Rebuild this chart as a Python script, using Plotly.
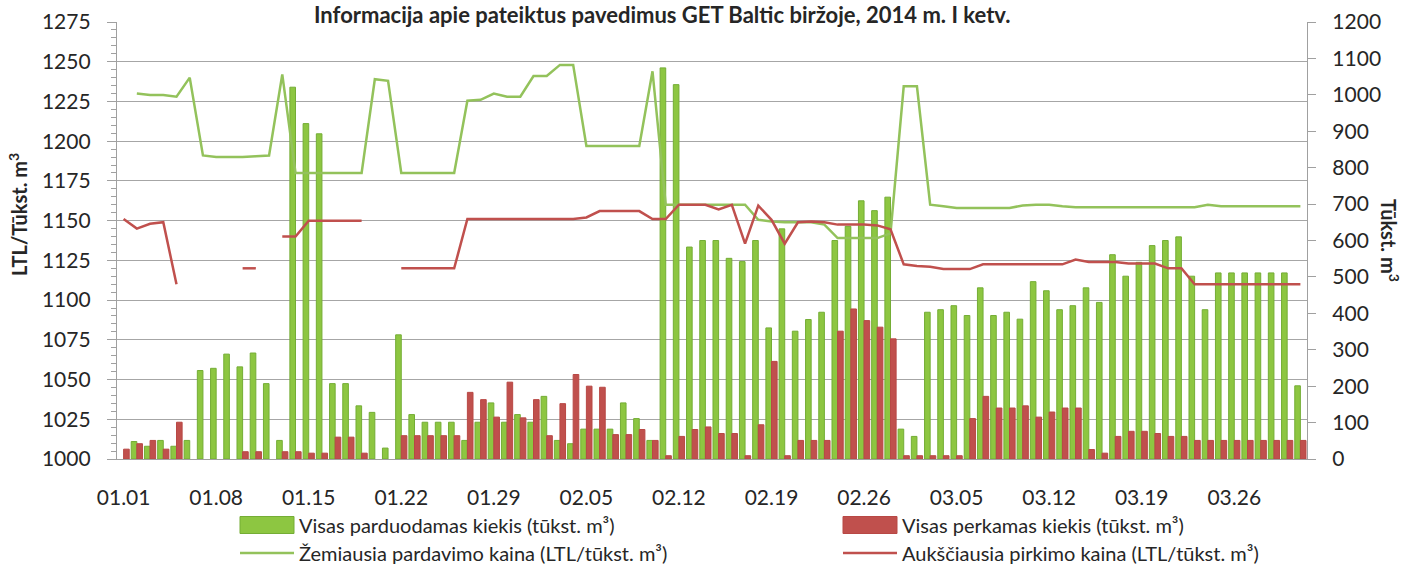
import datetime as dt
import plotly.graph_objects as go

# ---------------- data ----------------
start = dt.date(2014, 1, 1)
dates = [(start + dt.timedelta(days=i)).strftime("%m.%d") for i in range(90)]
tick_labels = dates[::7]

sell_qty = [0, 48, 35, 51, 35, 51, 243, 249, 288, 253,
            291, 207, 51, 1021, 921, 893, 207, 207, 146, 128,
            30, 341, 122, 101, 101, 101, 51, 101, 154, 101,
            122, 101, 172, 51, 42, 82, 82, 82, 154, 111,
            51, 1074, 1028, 582, 600, 600, 551, 542, 600, 360,
            632, 351, 383, 403, 600, 639, 709, 682, 719, 82,
            62, 403, 410, 421, 394, 470, 394, 403, 384, 487,
            462, 410, 421, 470, 430, 561, 502, 540, 586, 600,
            610, 502, 410, 511, 511, 511, 511, 511, 511, 201]

buy_qty = [27, 42, 51, 27, 101, 0, 0, 0, 0, 20,
           20, 0, 20, 20, 16, 16, 60, 60, 16, 0,
           0, 64, 64, 64, 64, 64, 183, 163, 115, 211,
           113, 163, 64, 152, 232, 200, 197, 67, 67, 81,
           51, 9, 62, 81, 88, 70, 70, 9, 94, 268,
           9, 51, 51, 51, 351, 412, 380, 362, 330, 9,
           9, 9, 9, 9, 111, 172, 140, 140, 146, 115,
           129, 140, 140, 26, 16, 62, 76, 76, 70, 62,
           62, 51, 51, 51, 51, 51, 51, 51, 51, 51]

sell_min_price = [None, 1230, 1229, 1229, 1228, 1240, 1191, 1190, 1190, 1190,
                  1190.5, 1191, 1242, 1180, 1180, 1180, 1180, 1180, 1180, 1239,
                  1238, 1180, 1180, 1180, 1180, 1180, 1225.5, 1226, 1230, 1228,
                  1228, 1241, 1241, 1248, 1248, 1197, 1197, 1197, 1197, 1197,
                  1244, 1160, 1160, 1160, 1160, 1160, 1160, 1160, 1150.5, 1149.5,
                  1149, 1149, 1149, 1147.5, 1139, 1139, 1139, 1139, 1142, 1234.5,
                  1234.5, 1160, 1159, 1158, 1158, 1158, 1158, 1158, 1159.5, 1160,
                  1160, 1159, 1158.5, 1158.5, 1158.5, 1158.5, 1158.5, 1158.5, 1158.5, 1158.5,
                  1158.5, 1158.5, 1160, 1159, 1159, 1159, 1159, 1159, 1159, 1159]

buy_max_price = [1151, 1145, 1148, 1149, 1110, None, None, None, None, 1120,
                 1120, None, 1140, 1140, 1150, 1150, 1150, 1150, 1150, None,
                 None, 1120, 1120, 1120, 1120, 1120, 1151, 1151, 1151, 1151,
                 1151, 1151, 1151, 1151, 1151, 1152, 1156, 1156, 1156, 1156,
                 1151, 1151, 1160, 1160, 1160, 1157, 1160, 1135.5, 1159.5, 1150.5,
                 1135.5, 1149, 1149.5, 1149, 1147.5, 1147.5, 1147.5, 1147, 1144.5, 1122.5,
                 1121.5, 1121, 1119.5, 1119.5, 1119.5, 1122.5, 1122.5, 1122.5, 1122.5, 1122.5,
                 1122.5, 1122.5, 1125.5, 1124, 1124, 1124, 1123, 1123, 1123, 1120,
                 1120, 1110, 1110, 1110, 1110, 1110, 1110, 1110, 1110, 1110]

series_names = ["Visas parduodamas kiekis (tūkst. m³)",
                "Visas perkamas kiekis (tūkst. m³)",
                "Žemiausia pardavimo kaina (LTL/tūkst. m³)",
                "Aukščiausia pirkimo kaina (LTL/tūkst. m³)"]

# ---------------- style ----------------
FONT = "Lato"
TXT = "#262626"
AX = "#A0A0A0"
GREEN_BAR = "#8DC641"
GREEN_EDGE = "#74AD35"
RED_BAR = "#C0504D"
RED_EDGE = "#B84845"
GREEN_LINE = "#93C25B"
RED_LINE = "#C0504D"

L, R, T, B = 117, 98, 22, 109
W, H = 1405, 568
PW, PH = W - L - R, H - T - B


def px(xp):
    return (xp - L) / PW


def py(yp):
    return (H - B - yp) / PH


fig = go.Figure()
fig.add_trace(go.Bar(x=dates, y=[v if v else None for v in sell_qty],
                     name=series_names[0],
                     marker=dict(color=GREEN_BAR, line=dict(color=GREEN_EDGE, width=1)),
                     yaxis="y"))
fig.add_trace(go.Bar(x=dates, y=[v if v else None for v in buy_qty],
                     name=series_names[1],
                     marker=dict(color=RED_BAR, line=dict(color=RED_EDGE, width=1)),
                     yaxis="y"))
fig.add_trace(go.Scatter(x=dates, y=sell_min_price, mode="lines",
                         name=series_names[2],
                         line=dict(color=GREEN_LINE, width=2.5), connectgaps=False,
                         yaxis="y2"))
fig.add_trace(go.Scatter(x=dates, y=buy_max_price, mode="lines",
                         name=series_names[3],
                         line=dict(color=RED_LINE, width=2.5), connectgaps=False,
                         yaxis="y2"))

fig.update_layout(
    width=W, height=H,
    margin=dict(l=L, r=R, t=T, b=B, autoexpand=False),
    paper_bgcolor="white", plot_bgcolor="white",
    barmode="group", bargap=0.15, bargroupgap=0,
    font=dict(family=FONT, size=21, color=TXT),
    showlegend=False,
    xaxis=dict(type="category", categoryorder="array", categoryarray=dates,
               range=[-0.5, 89.5], tickmode="array", tickvals=tick_labels,
               ticktext=tick_labels, showline=True, linecolor=AX, linewidth=1.3,
               ticks="", showgrid=False, ticklabelstandoff=20,
               tickfont=dict(family=FONT, size=21, color=TXT)),
    yaxis=dict(side="right", range=[0, 1200], dtick=100, showgrid=False,
               showline=True, linecolor=AX, linewidth=1.3, ticks="outside",
               ticklen=8, tickcolor=AX, tickwidth=1.3, ticklabelstandoff=12,
               zeroline=False, tickfont=dict(family=FONT, size=21, color=TXT)),
    yaxis2=dict(overlaying="y", side="left", range=[1000, 1275], dtick=25,
                showgrid=True, gridcolor="#A6A6A6", gridwidth=1.3,
                showline=True, linecolor=AX, linewidth=1.3, ticks="outside",
                ticklen=9, tickcolor=AX, tickwidth=1.3, ticklabelstandoff=12,
                zeroline=False,
                minor=dict(dtick=5, ticks="outside", ticklen=5, tickcolor=AX,
                           tickwidth=1, showgrid=False),
                tickfont=dict(family=FONT, size=21, color=TXT)),
)

# title and axis titles
fig.add_annotation(text="<b>Informacija apie pateiktus pavedimus GET Baltic biržoje, 2014 m. I ketv.</b>",
                   xref="paper", yref="paper", x=px(662), y=py(14),
                   xanchor="center", yanchor="middle", showarrow=False,
                   font=dict(family=FONT, size=22, color=TXT))
fig.add_annotation(text="<b>LTL/Tūkst. m<sup>3</sup></b>", xref="paper", yref="paper",
                   x=px(18), y=py(215), textangle=-90, showarrow=False,
                   xanchor="center", yanchor="middle",
                   font=dict(family=FONT, size=20, color=TXT))
fig.add_annotation(text="<b>Tūkst. m<sup>3</sup></b>", xref="paper", yref="paper",
                   x=px(1390), y=py(240), textangle=90, showarrow=False,
                   xanchor="center", yanchor="middle",
                   font=dict(family=FONT, size=20, color=TXT))

# custom legend (two columns, two rows)
leg_cols = [(240, 294), (843, 897)]
leg_rows = [525, 553]
for k in range(4):
    col, row = k % 2, k // 2
    x0, x1 = leg_cols[col]
    yc = leg_rows[row]
    if row == 0:
        fill = GREEN_BAR if col == 0 else RED_BAR
        edge = GREEN_EDGE if col == 0 else RED_EDGE
        fig.add_shape(type="rect", xref="paper", yref="paper",
                      x0=px(x0), x1=px(x1), y0=py(yc - 8.5), y1=py(yc + 8.5),
                      fillcolor=fill, line=dict(color=edge, width=1))
    else:
        color = GREEN_LINE if col == 0 else RED_LINE
        fig.add_shape(type="line", xref="paper", yref="paper",
                      x0=px(x0), x1=px(x1), y0=py(yc), y1=py(yc),
                      line=dict(color=color, width=2.5))
    fig.add_annotation(text=series_names[k], xref="paper", yref="paper",
                       x=px(x1 + 3), y=py(yc), xanchor="left", yanchor="middle",
                       showarrow=False, font=dict(family=FONT, size=20, color=TXT))

fig.write_html("out.html", config={"displayModeBar": False})

# remove default page margins so the figure sits at the window's top-left corner
with open("out.html", encoding="utf-8") as f:
    html = f.read()
html = html.replace("<head>", "<head><style>html,body{margin:0;padding:0;overflow:hidden;}</style>", 1)
with open("out.html", "w", encoding="utf-8") as f:
    f.write(html)
